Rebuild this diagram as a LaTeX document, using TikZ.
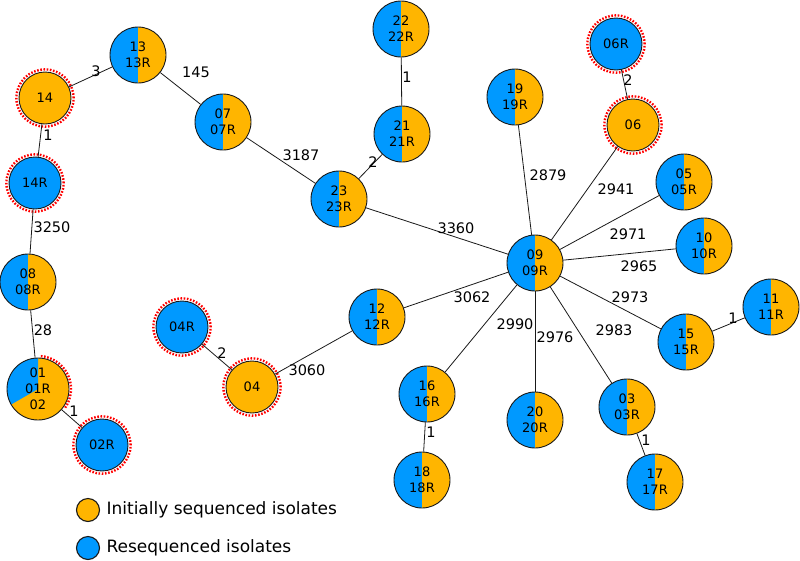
\documentclass[tikz,border=0pt]{standalone}
\usepackage{fontspec}
\setmainfont{DejaVu Sans}
\usepackage{tikz}
\usetikzlibrary{positioning}
\definecolor{org}{RGB}{255,181,0}
\definecolor{blu}{RGB}{0,153,255}
\tikzset{
  iso/.style={circle,draw=black!90,line width=0.9pt,minimum size=56pt,inner sep=0pt,align=center},
  both/.style={iso,path picture={\fill[blu] (path picture bounding box.south west) rectangle (path picture bounding box.north);
    \fill[org] (path picture bounding box.south) rectangle (path picture bounding box.north east);}},
  first/.style={iso,fill=org,minimum size=52pt},
  reseq/.style={iso,fill=blu,minimum size=52pt},
  wt/.style={font=\fontsize{14.5}{16}\selectfont,inner sep=0pt},
  ring/.style={red,line width=2.4pt,dash pattern=on 1.6pt off 1.6pt},
  link/.style={draw=black!90,line width=0.8pt}
}

\begin{document}
\begin{tikzpicture}[x=1pt,y=-1pt,font=\fontsize{13}{16}\selectfont]
\useasboundingbox (0,0) rectangle (800,560);
\foreach \id/\x/\y in {13/138/55,07/223/122,08/28/282,23/339/199,21/402/134,22/401/29,19/515/97,05/684/182,09/535/263,10/704/246,11/771/307,15/686/342,16/427/394,20/535/420,03/627/407,18/422/480,17/655/482,12/377/317} {\node[both] (n\id) at (\x,\y) {\id\\\id R};}
\foreach \id/\x/\y in {14/45/98,04/252/387,06/633/125} {\node[first] (n\id) at (\x,\y) {\id};}
\foreach \id/\x/\y in {14R/35/183,02R/102/445,04R/182/327,06R/616/44} {\node[reseq] (n\id) at (\x,\y) {\id};}
\node[iso,minimum size=62pt,fill=org,path picture={\fill[blu] (path picture bounding box.center) -- ++(90:40pt) arc[start angle=90,end angle=210,radius=40pt] -- cycle;}] (n01) at (38,389) {01\\01R\\02};
\foreach \id in {14,04,06,14R,02R,04R,06R} {\draw[ring] (n\id) circle[radius=28.6pt];}
\draw[ring] (n01.center) ++(85:33pt) arc[start angle=85,end angle=-35,radius=33pt];
\foreach \a/\b/\w/\lx/\ly in {14/13/3/96/71,13/07/145/196/72,14/14R/1/48/135,14R/08/3250/52/227,08/01/28/43/330,01/02R/1/74/411,04R/04/2/222/353,04/12/3060/307/370,07/23/3187/301/155,23/21/2/373/162,21/22/1/407/77,23/09/3360/456/228,12/09/3062/472/297,09/19/2879/548/175,09/06/2941/616/189,06/06R/2/628/80,09/05/2971/628/234,09/10/2965/639/266,09/15/2973/630/297,15/11/1/733/318,09/03/2983/614/330,03/17/1/646/440,09/20/2976/555/337,09/16/2990/515/324,16/18/1/431/432} {
  \draw[link] (n\a) -- (n\b);
  \node[wt] (w\a\b) at (\lx,\ly) {\w};
}
\node[iso,fill=org,minimum size=23pt,line width=1.1pt] (korg) at (88,510) {};
\node[right=3pt of korg,font=\fontsize{17}{20}\selectfont] (torg) {Initially sequenced isolates};
\node[iso,fill=blu,minimum size=23pt,line width=1.1pt] (kblu) at (88,548) {};
\node[right=3pt of kblu,font=\fontsize{17}{20}\selectfont] (tblu) {Resequenced isolates};
\end{tikzpicture}
\end{document}
